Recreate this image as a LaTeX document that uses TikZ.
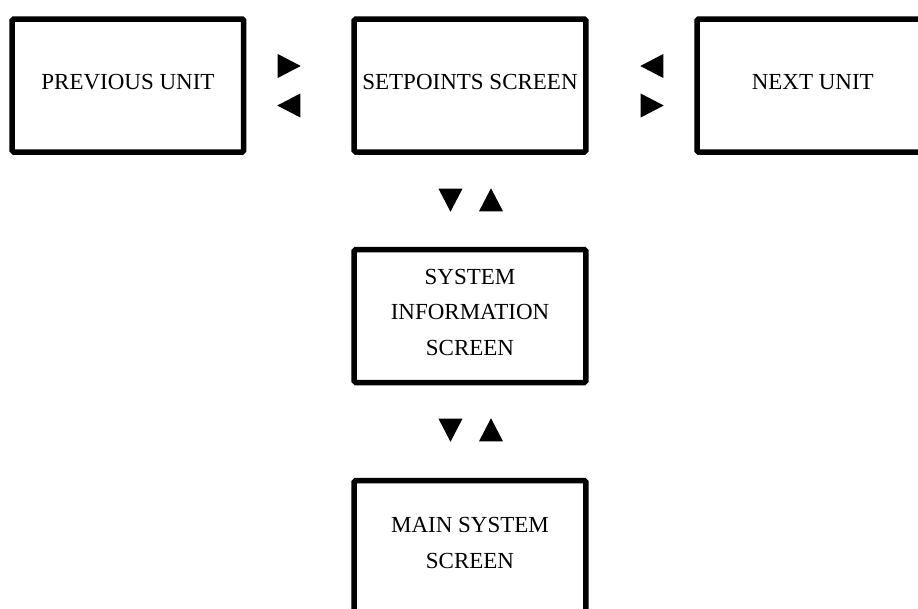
\documentclass[tikz,border=0pt]{standalone}
\usepackage{fontspec}
\setmainfont{Liberation Serif}
\usetikzlibrary{positioning,shapes.geometric}

\begin{document}
\begin{tikzpicture}[node distance=342pt,on grid,
screen/.style={draw,line width=5.5pt,rounded corners=1.5pt,minimum width=231.5pt,
    minimum height=133pt,align=center,inner sep=0pt,text depth=8pt,
    font=\fontsize{23}{35.5}\selectfont},
key/.style={isosceles triangle,isosceles triangle stretches,fill,draw=none,
    inner sep=0pt,minimum width=24pt,minimum height=23pt}]

\clip (-470pt,85.5pt) rectangle (448pt,-522.5pt);

\node[screen](setpts) {SETPOINTS SCREEN};
\node[screen](prev) [left=of setpts] {PREVIOUS UNIT};
\node[screen](next) [right=342.75pt of setpts] {NEXT UNIT};
\node[screen](sysinfo) [below=230.5pt of setpts] {SYSTEM\\INFORMATION\\SCREEN};
\node[screen](mainsys) [below=231pt of sysinfo] {MAIN SYSTEM\\SCREEN};

% arrow keys between the screens
\node[key](pR) [above left=19.5pt and 185pt of setpts] {};
\node[key,rotate=180](pL) [below left=20pt and 177pt of setpts] {};
\node[key,rotate=180](nL) [above right=19.5pt and 186pt of setpts] {};
\node[key](nR) [below right=20pt and 178pt of setpts] {};
\node[key,rotate=-90](sD) [below left=110.5pt and 19.5pt of setpts] {};
\node[key,rotate=90](sU) [below right=118.5pt and 21pt of setpts] {};
\node[key,rotate=-90](iD) [below left=110pt and 19.5pt of sysinfo] {};
\node[key,rotate=90](iU) [below right=118pt and 21pt of sysinfo] {};

\end{tikzpicture}
\end{document}
